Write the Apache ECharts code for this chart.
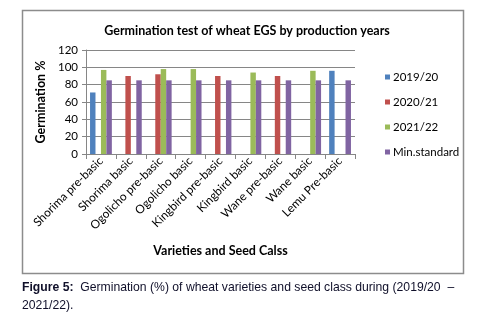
<!DOCTYPE html>
<html>
<head>
<meta charset="utf-8">
<script src="https://cdn.jsdelivr.net/npm/echarts@6/dist/echarts.min.js"></script>
<style>
  html, body { margin: 0; padding: 0; background: #fff; }
  #chart { width: 479px; height: 315px; }
</style>
</head>
<body>
<div id="chart"></div>
<script>
// categories and values
const categories = ['Shorima pre-basic', 'Shorima basic', 'Ogolicho pre-basic', 'Ogolicho basic',
  'Kingbird pre-basic', 'Kingbird basic', 'Wane pre-basic', 'Wane basic', 'Lemu Pre-basic']
const y2019 = [71, null, null, null, null, null, null, null, 96]
const y2020 = [null, 90, 92, null, 90, null, 90, null, null]
const y2021 = [97, null, 98, 98, null, 94, null, 96, null]
const minStandard = [85, 85, 85, 85, 85, 85, 85, 85, 85]
const yTicks = [0, 20, 40, 60, 80, 100, 120]

const seriesNames = ['2019/20', '2020/21', '2021/22', 'Min.standard']
const seriesData = [y2019, y2020, y2021, minStandard]
const colors = ['#4F81BD', '#C0504D', '#9BBB59', '#8064A2']

let myChart = echarts.init(document.getElementById('chart'))
let option = {
  animation: false,
  color: colors,
  textStyle: { fontFamily: 'Lato' },
  title: {
    text: 'Germination test of wheat EGS by production years',
    left: 242,
    top: 19,
    textAlign: 'center',
    textStyle: { fontFamily: 'Lato', fontSize: 12.5, fontWeight: 'bold', color: '#000' }
  },
  legend: {
    orient: 'vertical',
    left: 380,
    top: 66,
    itemWidth: 5,
    itemHeight: 5,
    itemGap: 13,
    icon: 'rect',
    textStyle: { fontFamily: 'Lato', fontSize: 11.5, color: '#000', padding: [0, 0, 0, -2] },
    data: seriesNames
  },
  grid: { left: 86, right: 124, top: 50, bottom: 161 },
  xAxis: {
    type: 'category',
    data: categories,
    name: 'Varieties and Seed Calss',
    nameLocation: 'middle',
    nameGap: 90,
    nameTextStyle: { fontFamily: 'Lato', fontSize: 12.5, fontWeight: 'bold', color: '#000' },
    axisLine: { lineStyle: { color: '#868686' } },
    axisTick: { show: true, length: 5, lineStyle: { color: '#868686' } },
    axisLabel: { rotate: 45, fontSize: 11.8, color: '#000', margin: 5, interval: 0 }
  },
  yAxis: {
    type: 'value',
    min: yTicks[0],
    max: yTicks[yTicks.length - 1],
    interval: 20,
    name: 'Germination %',
    nameLocation: 'middle',
    nameGap: 30,
    nameTextStyle: { fontFamily: 'Lato', fontSize: 12.5, fontWeight: 'bold', color: '#000' },
    axisLine: { show: true, lineStyle: { color: '#868686' } },
    axisTick: { show: true, length: 4, lineStyle: { color: '#868686' } },
    axisLabel: { fontSize: 11.5, color: '#000', margin: 8 },
    splitLine: { lineStyle: { color: '#868686' } }
  },
  series: seriesNames.map((name, i) => ({
    name: name,
    type: 'bar',
    data: seriesData[i],
    barGap: '0%',
    barCategoryGap: '27%'
  })),
  graphic: [
    {
      type: 'rect',
      shape: { x: 22.5, y: 10.5, width: 441, height: 263 },
      style: { fill: null, stroke: '#8c8c8c', lineWidth: 1.5 },
      z: -1
    },
    {
      type: 'text',
      left: 22,
      top: 282,
      style: {
        text: '{b|Figure 5:}  Germination (%) of wheat varieties and seed class during (2019/20  –',
        rich: {
          b: { fontFamily: 'Liberation Sans', fontSize: 12.2, fontWeight: 'bold', fill: '#10102a' }
        },
        fontFamily: 'Liberation Sans',
        fontSize: 12.2,
        fill: '#10102a'
      }
    },
    {
      type: 'text',
      left: 22,
      top: 300,
      style: {
        text: '2021/22).',
        fontFamily: 'Liberation Sans',
        fontSize: 12.2,
        fill: '#10102a'
      }
    }
  ]
}
myChart.setOption(option)
window.addEventListener('resize', function () {
  myChart.resize()
})
</script>
</body>
</html>
